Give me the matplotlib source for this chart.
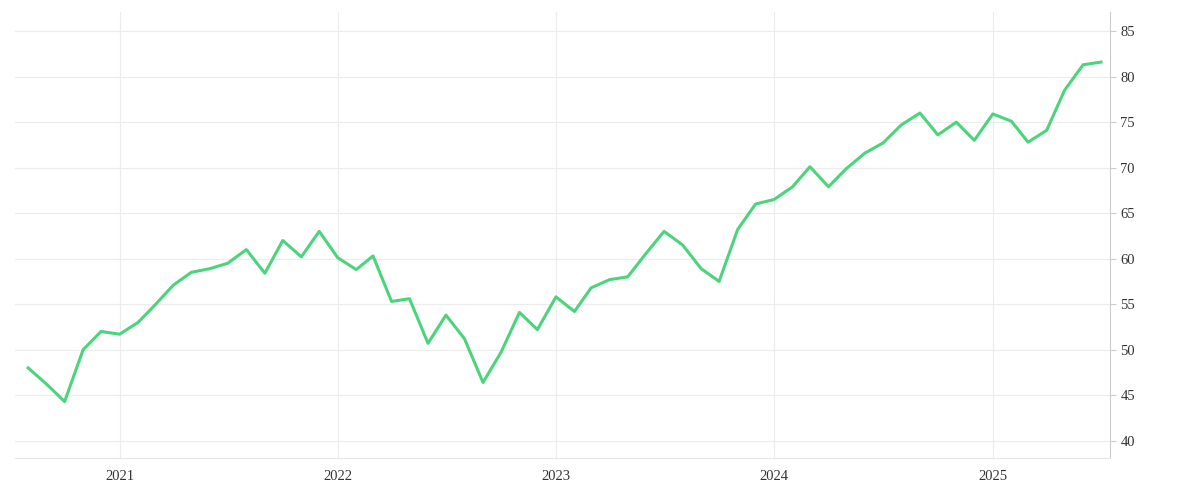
import matplotlib
matplotlib.use("Agg")
import matplotlib.pyplot as plt
import matplotlib.dates as mdates
import pandas as pd

dates = pd.date_range("2020-08-01", "2025-07-01", freq="MS")
values = [48.0, 46.2, 44.3, 50.0, 52.0, 51.7, 53.0, 54.9, 57.1, 58.5, 58.9, 59.5,
          61.0, 58.4, 62.0, 60.2, 63.0, 60.1, 58.8, 60.3, 55.3, 55.6, 50.7, 53.8,
          51.2, 46.4, 49.7, 54.1, 52.2, 55.8, 54.2, 56.8, 57.7, 58.0, 60.6, 63.0,
          61.5, 58.9, 57.5, 63.2, 66.0, 66.5, 67.9, 70.1, 67.9, 69.9, 71.6, 72.7,
          74.7, 76.0, 73.6, 75.0, 73.0, 75.9, 75.1, 72.8, 74.1, 78.5, 81.3, 81.6]
yticks = [40, 45, 50, 55, 60, 65, 70, 75, 80, 85]

plt.rcParams['font.family'] = ['Liberation Serif', 'DejaVu Serif']
fig = plt.figure(figsize=(12, 5), dpi=100)
ax = fig.add_axes([0.0125, 0.084, 0.9125, 0.892])

ax.plot(dates, values, color="#4cd47c", linewidth=2.2)
ax.set_ylim(38.1, 87.1)
ax.set_xlim(pd.Timestamp("2020-07-10"), pd.Timestamp("2025-07-16"))
ax.set_yticks(yticks)
ax.yaxis.tick_right()
ax.xaxis.set_major_locator(mdates.YearLocator())
ax.xaxis.set_major_formatter(mdates.DateFormatter("%Y"))
ax.grid(True, color="#ececec", linewidth=0.8)
for s in ["top", "left"]:
    ax.spines[s].set_visible(False)
ax.spines["right"].set_color("#cccccc")
ax.spines["bottom"].set_color("#e6e6e6")
ax.tick_params(axis="both", length=4, color="#cccccc", labelsize=10.5, labelcolor="#333333")
ax.tick_params(axis="x", length=0, pad=9)

fig.savefig("out.png")
